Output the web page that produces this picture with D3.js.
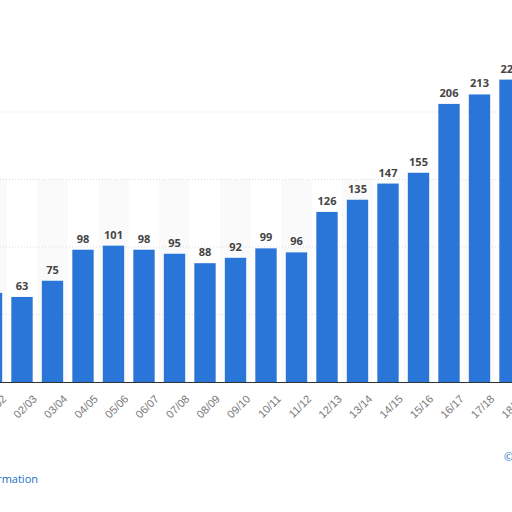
<!DOCTYPE html>
<html><head><meta charset="utf-8">
<script src="https://cdn.jsdelivr.net/npm/d3@7"></script>
<style>body{margin:0;background:#fff}svg{display:block;font-family:"Open Sans",sans-serif}</style>
</head><body>
<script>
const seasons = ["01/02","02/03","03/04","04/05","05/06","06/07","07/08","08/09","09/10","10/11","11/12","12/13","13/14","14/15","15/16","16/17","17/18","18/19"];
const values = [66,63,75,98,101,98,95,88,92,99,96,126,135,147,155,206,213,224];
const yTicks = [0,50,100,150,200];

const svg = d3.select("body").append("svg").attr("width",512).attr("height",512);
const step = 30.5, x0 = 22 - step * 1.5;
const x = d3.scaleBand().domain(seasons).range([x0, x0 + step * seasons.length]).paddingInner(0.3).paddingOuter(0.15);
const y = d3.scaleLinear().domain([0,250]).range([382, 382 - 337.5]);

// alternating stripes
svg.selectAll("rect.stripe").data(seasons.filter((d,i)=>i%2===0)).enter().append("rect")
  .attr("x", d => x(d) - x.step()*x.paddingInner()/2).attr("width", x.step())
  .attr("y", y(150)).attr("height", y(0)-y(150)).attr("fill","#fafafa");

// grid
svg.selectAll("line.grid").data(yTicks.slice(1)).enter().append("line")
  .attr("x1",0).attr("x2",512).attr("y1",d=>y(d)).attr("y2",d=>y(d))
  .attr("stroke","#ddd").attr("stroke-dasharray","1,2");

svg.selectAll("rect.bar").data(values).enter().append("rect")
  .attr("x",(d,i)=>x(seasons[i])).attr("width",x.bandwidth())
  .attr("y",d=>y(d)).attr("height",d=>y(0)-y(d)).attr("fill","#2a75d8");

svg.selectAll("text.val").data(values).enter().append("text")
  .attr("x",(d,i)=>x(seasons[i])+x.bandwidth()/2).attr("y",d=>y(d)-7)
  .attr("text-anchor","middle").attr("font-size",11).attr("font-weight","bold").attr("fill","#444")
  .text(d=>d);

const xa = svg.append("g").attr("transform","translate(0,382)").call(d3.axisBottom(x).tickSize(0));
xa.select(".domain").attr("stroke","#333");
xa.selectAll("text").attr("font-size",11).attr("fill","#777").attr("text-anchor","end")
  .attr("transform","translate(8,10) rotate(-45)").attr("dx","0").attr("dy","0.7em");

svg.append("text").attr("x",-78).attr("y",483).attr("font-size",11).attr("fill","#1a6fc4").text("Additional Information");
svg.append("text").attr("x",504).attr("y",461).attr("font-size",11).attr("fill","#1a6fc4").text("©");
</script>
</body></html>
